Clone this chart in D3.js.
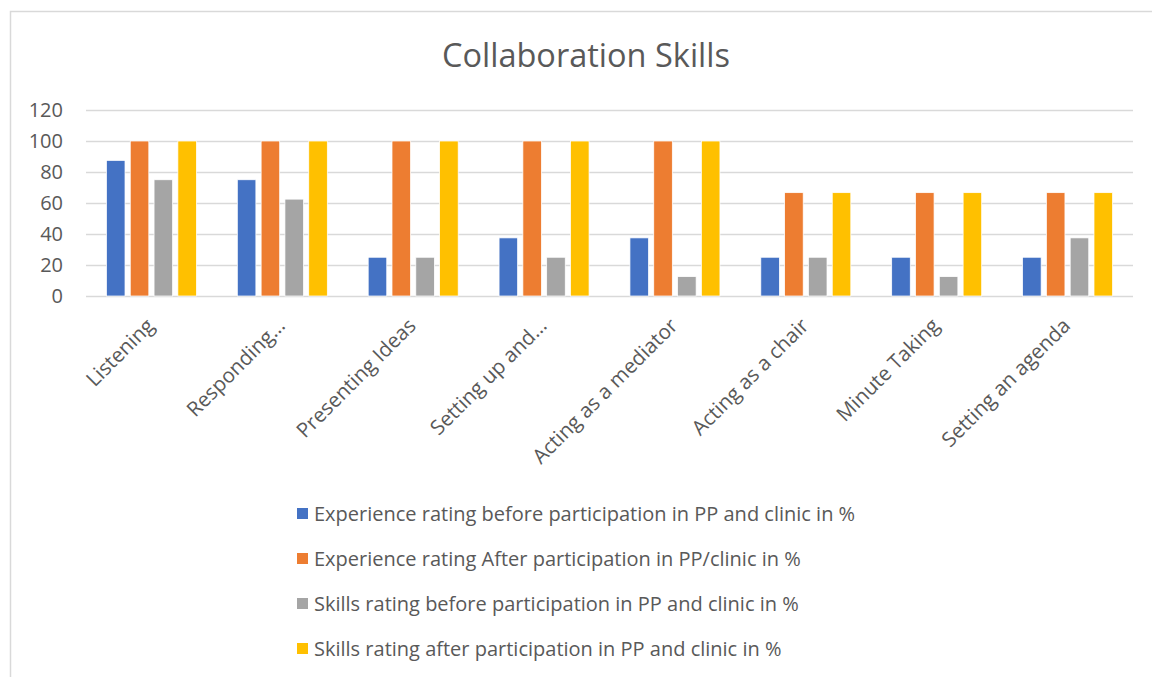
<!DOCTYPE html>
<html><head><meta charset="utf-8">
<script src="https://cdn.jsdelivr.net/npm/d3@7"></script>
<style>body{margin:0;background:#fff;} svg{display:block;font-family:"Open Sans",sans-serif;}</style>
</head><body>
<script>
const categories = ["Listening","Responding…","Presenting Ideas","Setting up and…","Acting as a mediator","Acting as a chair","Minute Taking","Setting an agenda"];
const seriesNames = [
  "Experience rating before participation in PP and clinic in %",
  "Experience rating After participation in PP/clinic in %",
  "Skills rating before participation in PP and clinic in %",
  "Skills rating after participation in PP and clinic in %"
];
const expBefore = [87.5, 75, 25, 37.5, 37.5, 25, 25, 25];
const expAfter = [100, 100, 100, 100, 100, 66.67, 66.67, 66.67];
const skillsBefore = [75, 62.5, 25, 25, 12.5, 25, 12.5, 37.5];
const skillsAfter = [100, 100, 100, 100, 100, 66.67, 66.67, 66.67];
const yTicks = [0, 20, 40, 60, 80, 100, 120];
const colors = ["#4472C4", "#ED7D31", "#A5A5A5", "#FFC000"];
const seriesValues = [expBefore, expAfter, skillsBefore, skillsAfter];

const W = 1152, H = 677;
const svg = d3.select("body").append("svg").attr("width", W).attr("height", H);

svg.append("rect").attr("x", 10.5).attr("y", 11.5).attr("width", 1160).attr("height", 700)
  .attr("fill", "#fff").attr("stroke", "#d9d9d9").attr("stroke-width", 1.5);

svg.append("text").attr("x", 586).attr("y", 67).attr("text-anchor", "middle")
  .attr("font-size", 32.5).attr("fill", "#595959").text("Collaboration Skills");

const plotL = 86, plotR = 1133, plotT = 110, plotB = 296;
const x = d3.scaleBand().domain(categories).range([plotL, plotR]).paddingInner(0).paddingOuter(0);
const y = d3.scaleLinear().domain([0, 120]).range([plotB, plotT]);

// grid
const yAxis = d3.axisLeft(y).tickValues(yTicks).tickSize(-(plotR - plotL)).tickPadding(23);
const gy = svg.append("g").attr("transform", `translate(${plotL},0)`).call(yAxis);
gy.select(".domain").remove();
gy.selectAll(".tick line").attr("stroke", "#d9d9d9").attr("stroke-width", 1.5);
gy.selectAll(".tick text").attr("font-size", 20).attr("fill", "#595959").attr("font-family", "Open Sans, sans-serif");

// bars
const groupInner = 90; // width of the cluster
const x1 = d3.scaleBand().domain(d3.range(4)).range([0, groupInner]).paddingInner(0.22).paddingOuter(0);
const data = [];
categories.forEach((c, i) => seriesValues.forEach((s, j) => data.push({c, j, v: s[i]})));
svg.append("g").selectAll("rect").data(data).join("rect")
  .attr("x", d => x(d.c) + (x.bandwidth() - groupInner) / 2 + x1(d.j))
  .attr("y", d => y(d.v))
  .attr("width", x1.bandwidth())
  .attr("height", d => y(0) - y(d.v))
  .attr("fill", d => colors[d.j])
  .attr("stroke", "#fff").attr("stroke-width", 0.75);

// x axis labels
const xg = svg.append("g").attr("transform", `translate(0,${plotB})`).call(d3.axisBottom(x).tickSize(0).tickPadding(0));
xg.select(".domain").remove();
xg.selectAll(".tick text")
  .attr("font-size", 20.5).attr("fill", "#595959").attr("font-family", "Open Sans, sans-serif")
  .attr("text-anchor", "end")
  .attr("dy", 0)
  .attr("transform", "translate(4,31) rotate(-45)");

// legend
const legY = [514, 559, 604, 649];
const leg = svg.append("g").selectAll("g").data(seriesNames).join("g")
  .attr("transform", (d, i) => `translate(297,${legY[i]})`);
leg.append("rect").attr("x", 0).attr("y", -6).attr("width", 11).attr("height", 11).attr("fill", (d, i) => colors[i]);
leg.append("text").attr("x", 17).attr("y", 0).attr("dy", "0.35em").attr("font-size", 20).attr("fill", "#595959").text(d => d);
</script>
</body></html>
